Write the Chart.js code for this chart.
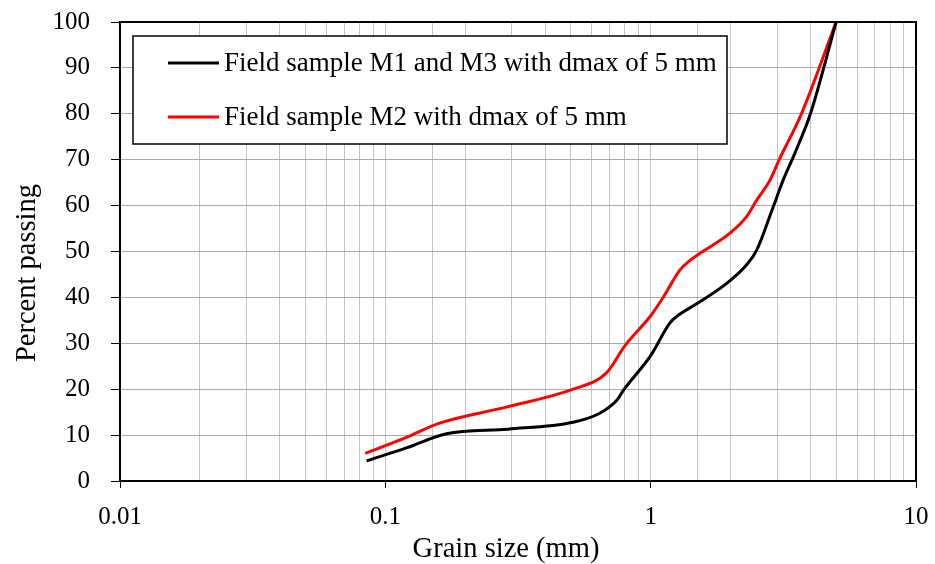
<!DOCTYPE html>
<html>
<head>
    <title>Grain size distribution</title>
    <script src="https://cdn.jsdelivr.net/npm/chart.js"></script>
    <style>
        body { margin: 0; background: #fff; }
        #wrap { width: 935px; height: 564px; }
    </style>
</head>
<body>
    <div id="wrap"><canvas id="myChart" width="935" height="564"></canvas></div>
    <script>
        // Grain size (mm) and percent passing for each sample
        var sizeM1M3 = [0.085, 0.12, 0.17, 0.29, 0.51, 0.64, 0.745, 0.79, 1.0, 1.18, 1.25, 1.5, 1.94, 2.3, 2.51, 2.9, 3.16, 3.5, 4.0, 5.0];
        var passM1M3 = [4.4, 7.2, 10.3, 11.3, 12.8, 14.7, 17.6, 19.8, 27.3, 34.4, 35.8, 38.7, 43.1, 47.1, 50.3, 59.8, 65.6, 71.5, 80, 100];
        var sizeM2 = [0.084, 0.12, 0.16, 0.29, 0.51, 0.68, 0.8, 1.0, 1.12, 1.29, 1.41, 1.99, 2.3, 2.51, 2.82, 3.05, 3.7, 5.0];
        var passM2 = [6.0, 9.5, 12.6, 16.2, 20.0, 23.5, 29.5, 36.0, 40.2, 46.0, 48.1, 54.0, 57.6, 61.2, 65.6, 70.0, 80, 100];

        var labelM1M3 = 'Field sample M1 and M3 with dmax of 5 mm';
        var labelM2 = 'Field sample M2 with dmax of 5 mm';
        var decadeLabels = ['0.01', '0.1', '1', '10'];
        var xTitle = 'Grain size (mm)';
        var yTitle = 'Percent passing';

        var FONT = '"Liberation Serif", "DejaVu Serif", serif';

        function toPoints(xs, ys) {
            return xs.map(function (x, i) { return { x: x, y: ys[i] }; });
        }

        function isDecade(v) {
            var l = Math.log10(v);
            return Math.abs(l - Math.round(l)) < 1e-6;
        }

        // frame around the plot area, the boxed legend inside it, and the axis titles
        var framePlugin = {
            id: 'frame',
            afterDatasetsDraw: function (chart) {
                var a = chart.chartArea, c = chart.ctx;
                c.save();
                c.strokeStyle = '#000';
                c.lineWidth = 2;
                c.strokeRect(a.left, a.top, a.right - a.left, a.bottom - a.top);

                // legend box
                c.fillStyle = '#fff';
                c.fillRect(133, 36, 594, 108);
                c.lineWidth = 1.5;
                c.strokeRect(133, 36, 594, 108);
                c.font = '27px ' + FONT;
                c.textBaseline = 'middle';
                chart.data.datasets.forEach(function (ds, i) {
                    var y = 63 + i * 54;
                    c.strokeStyle = ds.borderColor;
                    c.lineWidth = 3;
                    c.beginPath();
                    c.moveTo(168, y);
                    c.lineTo(219, y);
                    c.stroke();
                    c.fillStyle = '#000';
                    c.fillText(ds.label, 224, y + 1);
                });

                // axis titles
                c.fillStyle = '#000';
                c.font = '28.5px ' + FONT;
                c.textAlign = 'center';
                c.fillText(xTitle, 506, 550);
                c.translate(28, 273);
                c.rotate(-Math.PI / 2);
                c.fillText(yTitle, 0, 0);
                c.restore();
            }
        };

        var ctx = document.getElementById('myChart').getContext('2d');
        var myChart = new Chart(ctx, {
            type: 'line',
            data: {
                datasets: [{
                    label: labelM1M3,
                    data: toPoints(sizeM1M3, passM1M3),
                    borderColor: '#000000',
                    borderWidth: 3,
                    pointRadius: 0,
                    cubicInterpolationMode: 'monotone',
                    fill: false
                }, {
                    label: labelM2,
                    data: toPoints(sizeM2, passM2),
                    borderColor: '#ff0000',
                    borderWidth: 3,
                    pointRadius: 0,
                    cubicInterpolationMode: 'monotone',
                    fill: false
                }]
            },
            options: {
                responsive: false,
                animation: false,
                layout: { padding: { top: 22, right: 19, left: 0, bottom: 0 } },
                plugins: {
                    legend: { display: false },
                    tooltip: { enabled: false }
                },
                scales: {
                    x: {
                        type: 'logarithmic',
                        min: 0.01,
                        max: 10,
                        afterFit: function (s) {
                            s.height = 83;
                            s.paddingLeft = 0;
                            s.paddingRight = 0;
                        },
                        border: { color: '#000', width: 2 },
                        grid: {
                            color: '#c4c4c4',
                            lineWidth: 1,
                            tickLength: 7,
                            tickColor: function (c) {
                                return isDecade(c.tick.value) ? '#000' : 'rgba(0,0,0,0)';
                            }
                        },
                        ticks: {
                            autoSkip: false,
                            maxRotation: 0,
                            color: '#000',
                            font: { family: FONT, size: 25 },
                            padding: 14,
                            callback: function (v) {
                                if (!isDecade(v)) return '';
                                return decadeLabels[Math.round(Math.log10(v)) + 2];
                            }
                        }
                    },
                    y: {
                        min: 0,
                        max: 100,
                        afterFit: function (s) {
                            s.width = 120;
                            s.paddingTop = 0;
                            s.paddingBottom = 0;
                        },
                        border: { color: '#000', width: 2 },
                        grid: {
                            color: '#a8a8a8',
                            lineWidth: 1,
                            tickLength: 9,
                            tickColor: '#000'
                        },
                        ticks: {
                            stepSize: 10,
                            color: '#000',
                            font: { family: FONT, size: 25 },
                            padding: 21
                        }
                    }
                }
            },
            plugins: [framePlugin]
        });
    </script>
</body>
</html>
